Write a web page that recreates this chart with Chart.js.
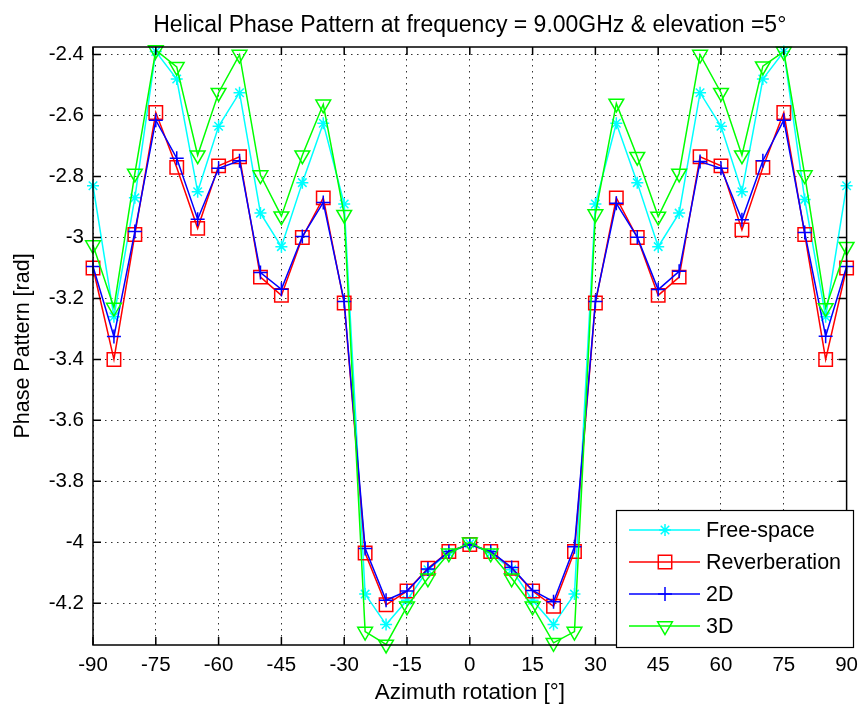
<!DOCTYPE html>
<html>
<head>
<meta charset="utf-8">
<script src="https://cdn.jsdelivr.net/npm/chart.js@4.4.1/dist/chart.umd.min.js"></script>
<style>
  html, body { margin: 0; padding: 0; background: #fff; }
  #wrap { width: 866px; height: 709px; position: relative; }
</style>
</head>
<body>
<div id="wrap"><canvas id="c" width="866" height="709"></canvas></div>
<script>
// ---- data ----
const angles = [-90,-85,-80,-75,-70,-65,-60,-55,-50,-45,-40,-35,-30,-25,-20,-15,-10,-5,0,5,10,15,20,25,30,35,40,45,50,55,60,65,70,75,80,85,90];
const freeSpace = [-2.83,-3.26,-2.87,-2.39,-2.48,-2.85,-2.635,-2.525,-2.92,-3.03,-2.82,-2.625,-2.89,-4.17,-4.27,-4.19,-4.09,-4.035,-4.005,-4.035,-4.09,-4.19,-4.27,-4.17,-2.89,-2.625,-2.82,-3.03,-2.92,-2.525,-2.635,-2.85,-2.48,-2.39,-2.875,-3.26,-2.83];
const reverberation = [-3.10,-3.40,-2.99,-2.59,-2.77,-2.97,-2.765,-2.735,-3.13,-3.19,-3.0,-2.87,-3.215,-4.035,-4.205,-4.16,-4.085,-4.03,-4.007,-4.03,-4.085,-4.16,-4.21,-4.03,-3.215,-2.87,-3.0,-3.19,-3.13,-2.735,-2.765,-2.975,-2.77,-2.59,-2.99,-3.40,-3.10];
const twoD = [-3.095,-3.325,-2.98,-2.615,-2.74,-2.94,-2.773,-2.748,-3.115,-3.17,-2.997,-2.885,-3.21,-4.02,-4.19,-4.16,-4.088,-4.03,-4.007,-4.03,-4.083,-4.158,-4.195,-4.015,-3.21,-2.888,-2.999,-3.171,-3.111,-2.751,-2.773,-2.942,-2.748,-2.615,-2.984,-3.324,-3.095];
const threeD = [-3.025,-3.23,-2.79,-2.385,-2.44,-2.73,-2.525,-2.40,-2.795,-2.93,-2.73,-2.563,-2.925,-4.293,-4.335,-4.21,-4.118,-4.036,-4.0,-4.036,-4.118,-4.21,-4.33,-4.293,-2.923,-2.56,-2.735,-2.931,-2.79,-2.40,-2.525,-2.73,-2.438,-2.39,-2.795,-3.231,-3.03];
const seriesNames = ['Free-space','Reverberation','2D','3D'];
const xTicks = [-90,-75,-60,-45,-30,-15,0,15,30,45,60,75,90];
const yTicks = [-2.4,-2.6,-2.8,-3.0,-3.2,-3.4,-3.6,-3.8,-4.0,-4.2];
const yTickLabels = ['-2.4','-2.6','-2.8','-3','-3.2','-3.4','-3.6','-3.8','-4','-4.2'];
const titleText = 'Helical Phase Pattern at frequency = 9.00GHz & elevation =5°';
const xTitle = 'Azimuth rotation [°]';
const yTitle = 'Phase Pattern [rad]';

// ---- styles ----
const FONT = "'Liberation Sans', Arial, sans-serif";
const styles = [
  {color:'#00FFFF', pointStyle:'star', radius:6, rotation:0},
  {color:'#FF0000', pointStyle:'rect', radius:9.5, rotation:0},
  {color:'#0000FF', pointStyle:'cross', radius:7, rotation:0},
  {color:'#00FF00', pointStyle:'triangle', radius:8.5, rotation:180}
];
const allSeries = [freeSpace, reverberation, twoD, threeD];

const datasets = allSeries.map((s, i) => ({
  label: seriesNames[i],
  data: angles.map((a, k) => ({x: a, y: s[k]})),
  borderColor: styles[i].color,
  backgroundColor: 'rgba(0,0,0,0)',
  pointBorderColor: styles[i].color,
  pointBackgroundColor: 'rgba(0,0,0,0)',
  pointStyle: styles[i].pointStyle,
  pointRadius: styles[i].radius,
  pointRotation: styles[i].rotation,
  pointBorderWidth: 1.5,
  pointHoverRadius: styles[i].radius,
  borderWidth: 1.5,
  tension: 0,
  fill: false,
  clip: false,
  order: 3 - i
}));

const framePlugin = {
  id: 'frame',
  afterDraw(chart) {
    const ctx = chart.ctx;
    const a = chart.chartArea;
    const xs = chart.scales.x, ys = chart.scales.y;
    ctx.save();
    ctx.strokeStyle = '#000';
    ctx.lineWidth = 1.5;
    ctx.strokeRect(a.left, a.top, a.right - a.left, a.bottom - a.top);
    const L = 8;
    ctx.beginPath();
    xTicks.forEach(v => {
      const px = xs.getPixelForValue(v);
      ctx.moveTo(px, a.bottom); ctx.lineTo(px, a.bottom - L);
      ctx.moveTo(px, a.top); ctx.lineTo(px, a.top + L);
    });
    yTicks.forEach(v => {
      const py = ys.getPixelForValue(v);
      ctx.moveTo(a.left, py); ctx.lineTo(a.left + L, py);
      ctx.moveTo(a.right, py); ctx.lineTo(a.right - L, py);
    });
    ctx.stroke();

    // legend box
    const bx = 616, by = 510, bw = 237, bh = 137;
    ctx.fillStyle = '#fff';
    ctx.fillRect(bx, by, bw, bh);
    ctx.lineWidth = 1.2;
    ctx.strokeStyle = '#000';
    ctx.strokeRect(bx + 0.5, by + 0.5, bw, bh);
    const rowY = [530, 562, 594, 626];
    seriesNames.forEach((name, i) => {
      const y = rowY[i];
      const st = styles[i];
      ctx.strokeStyle = st.color;
      ctx.lineWidth = 1.5;
      ctx.beginPath();
      ctx.moveTo(629, y); ctx.lineTo(700, y);
      ctx.stroke();
      ctx.fillStyle = 'rgba(0,0,0,0)';
      Chart.helpers.drawPoint(ctx, {pointStyle: st.pointStyle, radius: st.radius, rotation: st.rotation, borderWidth: 1.5}, 665, y);
      ctx.fillStyle = '#000';
      ctx.font = '21.5px ' + FONT;
      ctx.textBaseline = 'middle';
      ctx.textAlign = 'left';
      ctx.fillText(name, 706, y + 1);
    });
    ctx.restore();
  }
};

new Chart(document.getElementById('c'), {
  type: 'line',
  data: { datasets },
  plugins: [framePlugin],
  options: {
    responsive: false,
    animation: false,
    events: [],
    layout: { padding: { left: 0, right: 16, top: 0, bottom: 0 } },
    plugins: {
      legend: { display: false },
      tooltip: { enabled: false },
      title: {
        display: true,
        text: titleText,
        fullSize: false,
        color: '#000',
        font: { family: FONT, size: 23, weight: 'normal' },
        padding: { top: 11.5, bottom: 7.9 }
      }
    },
    scales: {
      x: {
        type: 'linear',
        min: -90, max: 90,
        afterBuildTicks: (s) => { s.ticks = xTicks.map(v => ({value: v})); },
        afterFit: (s) => { s.height = 64; },
        ticks: {
          color: '#000',
          font: { family: FONT, size: 20.5 },
          padding: 8,
          maxRotation: 0,
          autoSkip: false,
          callback: (v) => String(v)
        },
        grid: {
          color: '#333',
          lineWidth: 1,
          drawTicks: false
        },
        border: { display: false, dash: [1.5, 4.5] },
        title: {
          display: true, text: xTitle, color: '#000',
          font: { family: FONT, size: 22.5 },
          padding: { top: 0, bottom: 3 }
        }
      },
      y: {
        type: 'linear',
        min: -4.337, max: -2.375,
        afterBuildTicks: (s) => { s.ticks = yTicks.map(v => ({value: v})); },
        afterFit: (s) => { s.width = 93; },
        ticks: {
          color: '#000',
          font: { family: FONT, size: 20.5 },
          padding: 9,
          autoSkip: false,
          callback: (v) => { const k = yTicks.findIndex(t => Math.abs(t - v) < 1e-6); return k >= 0 ? yTickLabels[k] : ''; }
        },
        grid: {
          color: '#333',
          lineWidth: 1,
          drawTicks: false
        },
        border: { display: false, dash: [1.5, 4.5] },
        title: {
          display: true, text: yTitle, color: '#000',
          font: { family: FONT, size: 21.5 },
          padding: { top: 10, bottom: 0 }
        }
      }
    }
  }
});
</script>
</body>
</html>
